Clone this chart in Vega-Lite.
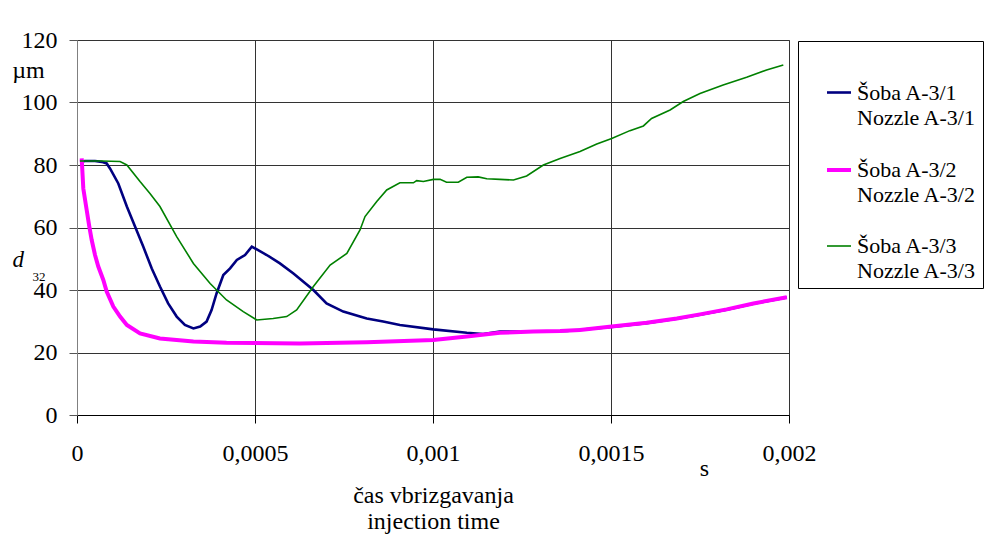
{
  "$schema": "https://vega.github.io/schema/vega-lite/v6.json",
  "width": 712,
  "height": 375,
  "autosize": {"type": "none"},
  "padding": {"left": 77, "top": 40, "right": 195, "bottom": 130},
  "background": "white",
  "config": {
    "font": "Liberation Serif",
    "view": {"stroke": "#808080", "strokeWidth": 1}
  },
  "data": {
    "values": [
      {"s": "Šoba A-3/1", "t": 0.0000084, "d": 81.0},
      {"s": "Šoba A-3/1", "t": 0.0000225, "d": 81.3},
      {"s": "Šoba A-3/1", "t": 0.0000506, "d": 81.3},
      {"s": "Šoba A-3/1", "t": 0.0000694, "d": 81.0},
      {"s": "Šoba A-3/1", "t": 0.0000834, "d": 80.5},
      {"s": "Šoba A-3/1", "t": 0.0000927, "d": 78.9},
      {"s": "Šoba A-3/1", "t": 0.000116, "d": 74.1},
      {"s": "Šoba A-3/1", "t": 0.00014, "d": 66.7},
      {"s": "Šoba A-3/1", "t": 0.000163, "d": 60.3},
      {"s": "Šoba A-3/1", "t": 0.000186, "d": 53.9},
      {"s": "Šoba A-3/1", "t": 0.00021, "d": 46.9},
      {"s": "Šoba A-3/1", "t": 0.000233, "d": 41.1},
      {"s": "Šoba A-3/1", "t": 0.000256, "d": 35.7},
      {"s": "Šoba A-3/1", "t": 0.00028, "d": 31.5},
      {"s": "Šoba A-3/1", "t": 0.000303, "d": 28.8},
      {"s": "Šoba A-3/1", "t": 0.000327, "d": 27.7},
      {"s": "Šoba A-3/1", "t": 0.000346, "d": 28.3},
      {"s": "Šoba A-3/1", "t": 0.000364, "d": 29.9},
      {"s": "Šoba A-3/1", "t": 0.000378, "d": 33.6},
      {"s": "Šoba A-3/1", "t": 0.000392, "d": 38.9},
      {"s": "Šoba A-3/1", "t": 0.000411, "d": 44.8},
      {"s": "Šoba A-3/1", "t": 0.00043, "d": 46.9},
      {"s": "Šoba A-3/1", "t": 0.000449, "d": 49.6},
      {"s": "Šoba A-3/1", "t": 0.000472, "d": 51.2},
      {"s": "Šoba A-3/1", "t": 0.000491, "d": 53.9},
      {"s": "Šoba A-3/1", "t": 0.000533, "d": 51.2},
      {"s": "Šoba A-3/1", "t": 0.00057, "d": 48.5},
      {"s": "Šoba A-3/1", "t": 0.000608, "d": 45.3},
      {"s": "Šoba A-3/1", "t": 0.000664, "d": 40.0},
      {"s": "Šoba A-3/1", "t": 0.000701, "d": 35.7},
      {"s": "Šoba A-3/1", "t": 0.000748, "d": 33.1},
      {"s": "Šoba A-3/1", "t": 0.000795, "d": 31.5},
      {"s": "Šoba A-3/1", "t": 0.000814, "d": 30.9},
      {"s": "Šoba A-3/1", "t": 0.00086, "d": 29.9},
      {"s": "Šoba A-3/1", "t": 0.000907, "d": 28.8},
      {"s": "Šoba A-3/1", "t": 0.001001, "d": 27.4},
      {"s": "Šoba A-3/1", "t": 0.001095, "d": 26.3},
      {"s": "Šoba A-3/1", "t": 0.001141, "d": 25.9},
      {"s": "Šoba A-3/1", "t": 0.001188, "d": 26.7},
      {"s": "Šoba A-3/1", "t": 0.001282, "d": 26.7},
      {"s": "Šoba A-3/1", "t": 0.001376, "d": 26.9},
      {"s": "Šoba A-3/1", "t": 0.001502, "d": 28.2},
      {"s": "Šoba A-3/1", "t": 0.0016, "d": 29.4},
      {"s": "Šoba A-3/1", "t": 0.001685, "d": 30.8},
      {"s": "Šoba A-3/1", "t": 0.00175, "d": 32.1},
      {"s": "Šoba A-3/1", "t": 0.001825, "d": 33.7},
      {"s": "Šoba A-3/1", "t": 0.0019, "d": 35.6},
      {"s": "Šoba A-3/1", "t": 0.001994, "d": 37.6},

      {"s": "Šoba A-3/2", "t": 0.0000132, "d": 82.1},
      {"s": "Šoba A-3/2", "t": 0.0000177, "d": 72.5},
      {"s": "Šoba A-3/2", "t": 0.0000272, "d": 65.6},
      {"s": "Šoba A-3/2", "t": 0.0000346, "d": 60.3},
      {"s": "Šoba A-3/2", "t": 0.0000413, "d": 56.0},
      {"s": "Šoba A-3/2", "t": 0.0000506, "d": 51.2},
      {"s": "Šoba A-3/2", "t": 0.0000598, "d": 47.5},
      {"s": "Šoba A-3/2", "t": 0.0000739, "d": 43.2},
      {"s": "Šoba A-3/2", "t": 0.0000834, "d": 39.5},
      {"s": "Šoba A-3/2", "t": 0.000102, "d": 34.7},
      {"s": "Šoba A-3/2", "t": 0.000121, "d": 31.5},
      {"s": "Šoba A-3/2", "t": 0.00014, "d": 28.8},
      {"s": "Šoba A-3/2", "t": 0.000177, "d": 26.1},
      {"s": "Šoba A-3/2", "t": 0.000233, "d": 24.5},
      {"s": "Šoba A-3/2", "t": 0.000327, "d": 23.5},
      {"s": "Šoba A-3/2", "t": 0.00042, "d": 23.1},
      {"s": "Šoba A-3/2", "t": 0.000626, "d": 22.9},
      {"s": "Šoba A-3/2", "t": 0.000814, "d": 23.3},
      {"s": "Šoba A-3/2", "t": 0.001001, "d": 24.0},
      {"s": "Šoba A-3/2", "t": 0.001095, "d": 25.1},
      {"s": "Šoba A-3/2", "t": 0.001188, "d": 26.3},
      {"s": "Šoba A-3/2", "t": 0.001282, "d": 26.7},
      {"s": "Šoba A-3/2", "t": 0.001357, "d": 26.9},
      {"s": "Šoba A-3/2", "t": 0.001413, "d": 27.2},
      {"s": "Šoba A-3/2", "t": 0.001502, "d": 28.3},
      {"s": "Šoba A-3/2", "t": 0.0016, "d": 29.5},
      {"s": "Šoba A-3/2", "t": 0.001685, "d": 30.9},
      {"s": "Šoba A-3/2", "t": 0.00175, "d": 32.2},
      {"s": "Šoba A-3/2", "t": 0.001825, "d": 33.8},
      {"s": "Šoba A-3/2", "t": 0.0019, "d": 35.7},
      {"s": "Šoba A-3/2", "t": 0.001994, "d": 37.7},

      {"s": "Šoba A-3/3", "t": 0.0000084, "d": 81.3},
      {"s": "Šoba A-3/3", "t": 0.0000694, "d": 81.3},
      {"s": "Šoba A-3/3", "t": 0.000121, "d": 81.1},
      {"s": "Šoba A-3/3", "t": 0.00014, "d": 80.0},
      {"s": "Šoba A-3/3", "t": 0.000177, "d": 74.7},
      {"s": "Šoba A-3/3", "t": 0.000205, "d": 70.9},
      {"s": "Šoba A-3/3", "t": 0.000233, "d": 66.7},
      {"s": "Šoba A-3/3", "t": 0.00028, "d": 57.1},
      {"s": "Šoba A-3/3", "t": 0.000327, "d": 48.5},
      {"s": "Šoba A-3/3", "t": 0.000374, "d": 42.1},
      {"s": "Šoba A-3/3", "t": 0.00042, "d": 36.8},
      {"s": "Šoba A-3/3", "t": 0.000467, "d": 33.1},
      {"s": "Šoba A-3/3", "t": 0.000505, "d": 30.4},
      {"s": "Šoba A-3/3", "t": 0.000551, "d": 30.9},
      {"s": "Šoba A-3/3", "t": 0.000589, "d": 31.5},
      {"s": "Šoba A-3/3", "t": 0.000617, "d": 33.6},
      {"s": "Šoba A-3/3", "t": 0.000664, "d": 41.1},
      {"s": "Šoba A-3/3", "t": 0.000711, "d": 48.0},
      {"s": "Šoba A-3/3", "t": 0.000758, "d": 51.7},
      {"s": "Šoba A-3/3", "t": 0.000795, "d": 59.2},
      {"s": "Šoba A-3/3", "t": 0.000809, "d": 63.5},
      {"s": "Šoba A-3/3", "t": 0.000842, "d": 68.3},
      {"s": "Šoba A-3/3", "t": 0.00087, "d": 72.0},
      {"s": "Šoba A-3/3", "t": 0.000907, "d": 74.3},
      {"s": "Šoba A-3/3", "t": 0.000945, "d": 74.3},
      {"s": "Šoba A-3/3", "t": 0.000954, "d": 75.0},
      {"s": "Šoba A-3/3", "t": 0.000973, "d": 74.7},
      {"s": "Šoba A-3/3", "t": 0.001001, "d": 75.4},
      {"s": "Šoba A-3/3", "t": 0.00102, "d": 75.4},
      {"s": "Šoba A-3/3", "t": 0.001038, "d": 74.5},
      {"s": "Šoba A-3/3", "t": 0.001071, "d": 74.5},
      {"s": "Šoba A-3/3", "t": 0.001095, "d": 76.1},
      {"s": "Šoba A-3/3", "t": 0.001127, "d": 76.2},
      {"s": "Šoba A-3/3", "t": 0.001151, "d": 75.6},
      {"s": "Šoba A-3/3", "t": 0.001188, "d": 75.4},
      {"s": "Šoba A-3/3", "t": 0.001226, "d": 75.2},
      {"s": "Šoba A-3/3", "t": 0.001263, "d": 76.5},
      {"s": "Šoba A-3/3", "t": 0.00131, "d": 80.0},
      {"s": "Šoba A-3/3", "t": 0.001357, "d": 82.1},
      {"s": "Šoba A-3/3", "t": 0.001413, "d": 84.3},
      {"s": "Šoba A-3/3", "t": 0.00146, "d": 86.7},
      {"s": "Šoba A-3/3", "t": 0.001502, "d": 88.5},
      {"s": "Šoba A-3/3", "t": 0.001553, "d": 91.0},
      {"s": "Šoba A-3/3", "t": 0.001591, "d": 92.5},
      {"s": "Šoba A-3/3", "t": 0.001614, "d": 94.9},
      {"s": "Šoba A-3/3", "t": 0.001666, "d": 97.6},
      {"s": "Šoba A-3/3", "t": 0.001703, "d": 100.3},
      {"s": "Šoba A-3/3", "t": 0.00175, "d": 102.9},
      {"s": "Šoba A-3/3", "t": 0.001815, "d": 105.6},
      {"s": "Šoba A-3/3", "t": 0.001881, "d": 108.1},
      {"s": "Šoba A-3/3", "t": 0.001937, "d": 110.4},
      {"s": "Šoba A-3/3", "t": 0.001984, "d": 112.0}
    ]
  },
  "resolve": {"axis": {"x": "independent", "y": "independent"}},
  "layer": [
    {
      "mark": {"type": "line", "interpolate": "linear"},
      "encoding": {
        "x": {
          "field": "t", "type": "quantitative",
          "scale": {"domain": [0, 0.002], "nice": false},
          "axis": {
            "orient": "bottom",
            "values": [0, 0.0005, 0.001, 0.0015, 0.002],
            "format": "~g",
            "labelExpr": "replace(datum.label, '.', ',')",
            "labelFlush": false, "labelOverlap": false, "labelBound": false,
            "labelFont": "Liberation Serif", "labelFontSize": 24, "labelPadding": 18, "labelColor": "#000",
            "tickSize": 8, "tickColor": "#000", "domainColor": "#000",
            "grid": true, "gridColor": "#333", "gridWidth": 1,
            "title": ["čas vbrizgavanja", "injection time"],
            "titleFont": "Liberation Serif", "titleFontWeight": "normal", "titleColor": "#000",
            "titleFontSize": 24, "titleLineHeight": 26,
            "titleBaseline": "alphabetic", "titleAlign": "center",
            "titleX": 356, "titleY": 87
          }
        },
        "y": {
          "field": "d", "type": "quantitative",
          "scale": {"domain": [0, 120], "nice": false},
          "axis": {
            "orient": "left",
            "values": [0, 20, 40, 60, 80, 100, 120],
            "labelFont": "Liberation Serif", "labelFontSize": 24, "labelPadding": 12, "labelColor": "#000",
            "tickSize": 8, "tickColor": "#555", "domainColor": "#808080",
            "grid": true, "gridColor": "#333", "gridWidth": 1,
            "title": "µm", "titleFont": "Liberation Serif", "titleFontWeight": "normal", "titleColor": "#000",
            "titleFontSize": 24, "titleAngle": 0,
            "titleAlign": "center", "titleBaseline": "alphabetic",
            "titleX": -49, "titleY": 37
          }
        },
        "color": {
          "field": "s", "type": "nominal",
          "scale": {"domain": ["Šoba A-3/1", "Šoba A-3/2", "Šoba A-3/3"], "range": ["#000080", "#FF00FF", "#008000"]},
          "legend": {
            "orient": "none", "legendX": 721, "legendY": 1,
            "title": " ", "titleFontSize": 24, "titlePadding": 8,
            "labelExpr": "[datum.label, 'Nozzle ' + slice(datum.label, 5)]",
            "labelFont": "Liberation Serif", "labelFontSize": 22, "labelLimit": 400, "labelColor": "#000",
            "labelBaseline": "alphabetic",
            "symbolType": "stroke", "symbolSize": 576, "symbolStrokeWidth": 2,
            "padding": 6, "rowPadding": 27, "labelOffset": 4, "symbolOffset": 21,
            "strokeColor": "#000", "fillColor": "#fff",
            "encode": {"labels": {"update": {"dy": {"value": 7}, "lineHeight": {"value": 25}}}}
          }
        },
        "strokeWidth": {
          "field": "s", "type": "nominal",
          "scale": {"type": "ordinal", "domain": ["Šoba A-3/1", "Šoba A-3/2", "Šoba A-3/3"], "range": [2.6, 4, 1.6]},
          "legend": null
        }
      }
    },
    {
      "mark": {"type": "line", "opacity": 0},
      "encoding": {
        "x": {
          "field": "t", "type": "quantitative",
          "axis": {
            "orient": "top", "labels": false, "ticks": false, "domain": false, "grid": false,
            "title": "s", "titleFont": "Liberation Serif", "titleFontWeight": "normal", "titleColor": "#000",
            "titleFontSize": 24, "titleAlign": "center", "titleBaseline": "alphabetic",
            "titleX": 627, "titleY": 435
          }
        },
        "y": {
          "field": "d", "type": "quantitative",
          "axis": {
            "orient": "left", "labels": false, "ticks": false, "domain": false, "grid": false,
            "title": "d", "titleFont": "Liberation Serif", "titleFontWeight": "normal", "titleColor": "#000",
            "titleFontSize": 23, "titleFontStyle": "italic", "titleAngle": 0,
            "titleAlign": "left", "titleBaseline": "alphabetic",
            "titleX": -65, "titleY": 226
          }
        },
        "detail": {"field": "s", "type": "nominal"}
      }
    },
    {
      "mark": {"type": "line", "opacity": 0},
      "encoding": {
        "x": {"field": "t", "type": "quantitative", "axis": null},
        "y": {
          "field": "d", "type": "quantitative",
          "axis": {
            "orient": "left", "labels": false, "ticks": false, "domain": false, "grid": false,
            "title": "32", "titleFont": "Liberation Serif", "titleFontWeight": "normal", "titleColor": "#000",
            "titleFontSize": 13, "titleAngle": 0,
            "titleAlign": "left", "titleBaseline": "alphabetic",
            "titleX": -45, "titleY": 240
          }
        },
        "detail": {"field": "s", "type": "nominal"}
      }
    }
  ]
}
